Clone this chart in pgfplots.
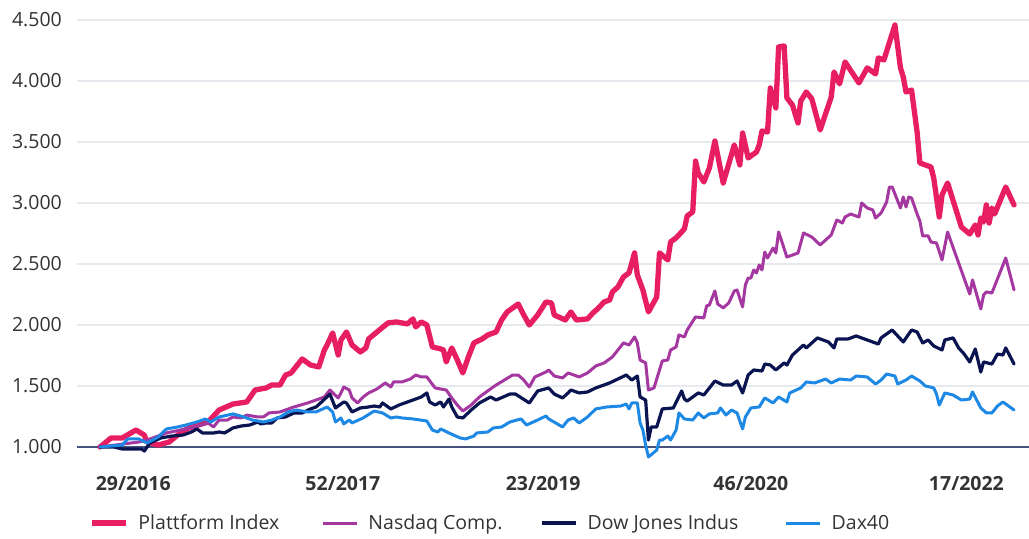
\documentclass[border=0pt]{standalone}
\usepackage{fontspec}
\setmainfont{Open Sans}
\usepackage{pgfplots}
\pgfplotsset{compat=1.18}
\definecolor{pinkc}{RGB}{232,30,99}
\definecolor{purpc}{RGB}{165,55,160}
\definecolor{navyc}{RGB}{10,20,80}
\definecolor{bluec}{RGB}{30,136,229}
\definecolor{gridc}{RGB}{230,233,237}
\definecolor{axisc}{RGB}{70,82,125}
\definecolor{textc}{RGB}{51,51,51}
\begin{document}
\begin{tikzpicture}
\begin{axis}[name=ax, scale only axis, width=952pt, height=439.2pt,
  xmin=-8.3, xmax=335.4, ymin=900, ymax=4500,
  axis line style={draw=none}, tick style={draw=none},
  ytick={1500,2000,2500,3000,3500,4000,4500},
  extra y ticks={1000},
  extra y tick style={grid style={color=axisc, line width=1.4pt}},
  ymajorgrids, grid style={color=gridc, line width=1.3pt},
  xtick={12,87.7,160,235,312.8},
  xticklabels={29/2016,52/2017,23/2019,46/2020,17/2022},
  yticklabel style={font=\fontsize{19.5}{20}\selectfont, text=textc, anchor=east, inner sep=0pt, xshift=-15pt},
  xticklabel style={font=\bfseries\fontsize{19.5}{20}\selectfont, text=textc, anchor=base, inner sep=0pt, yshift=-31pt},
  /pgf/number format/.cd, use comma, 1000 sep={.}, assume math mode=true,
  /pgfplots/.cd,
  legend columns=4,
  legend cell align=left,
  legend image code/.code={\draw[#1, line cap=butt] (0pt,0pt) -- (34pt,0pt);},
  legend style={at={(0.0126,-0.1453)}, anchor=west, draw=none, fill=none, inner sep=0pt,
    font=\fontsize{19.5}{20}\selectfont, text=textc, nodes={inner sep=0pt},
    /tikz/every odd column/.append style={column sep=10pt}},
  every axis plot/.append style={line join=round, line cap=round},
]
\addplot[pinkc, line width=5.3pt] coordinates {(0,1000)(4,1074)(8,1074)(13,1139)(16,1098)(17,1041)(21,1016)(25,1041)(29,1115)(32,1156)(39,1205)(43,1303)(48,1352)(53,1369)(56,1467)(60,1484)(62,1508)(65,1508)(67,1590)(69,1607)(73,1722)(76,1672)(79,1656)(81,1795)(82,1836)(84,1935)(86,1754)(87,1877)(89,1943)(91,1836)(94,1779)(96,1812)(97,1886)(100,1943)(104,2017)(107,2025)(111,2009)(113,2050)(114,1984)(116,2025)(118,2000)(120,1820)(123,1804)(124,1795)(125,1697)(127,1812)(129,1713)(131,1607)(133,1738)(135,1853)(138,1886)(140,1918)(143,1943)(145,2041)(147,2107)(151,2172)(153,2082)(155,2000)(158,2082)(161,2189)(163,2181)(164,2082)(168,2041)(170,2107)(172,2041)(176,2050)(178,2099)(180,2140)(182,2189)(184,2205)(185,2271)(187,2312)(189,2394)(191,2427)(193,2591)(194,2410)(196,2287)(198,2107)(201,2230)(202,2591)(205,2533)(206,2681)(208,2714)(210,2763)(211,2788)(212,2894)(214,2927)(215,3344)(216,3246)(218,3172)(220,3287)(222,3508)(225,3164)(229,3476)(231,3312)(232,3574)(234,3369)(237,3418)(238,3476)(239,3590)(241,3582)(242,3943)(244,3779)(245,4279)(247,4287)(248,3861)(250,3803)(252,3656)(253,3836)(255,3910)(257,3853)(260,3598)(264,3869)(265,4074)(267,3976)(269,4156)(274,3984)(277,4107)(280,4058)(281,4189)(283,4172)(287,4459)(289,4107)(290,4033)(291,3910)(293,3926)(295,3582)(296,3328)(300,3295)(301,3205)(303,2885)(304,3066)(306,3164)(311,2803)(314,2746)(316,2820)(317,2738)(318,2877)(319,2844)(320,2984)(321,2836)(322,2959)(323,2910)(327,3131)(330,2984)};
\addlegendentry{\makebox[183pt][l]{Plattform Index}}
\addplot[purpc, line width=3pt] coordinates {(0,1000)(14,1041)(17,1057)(24,1115)(29,1139)(34,1164)(39,1197)(41,1164)(43,1221)(46,1221)(48,1246)(51,1238)(53,1262)(57,1246)(59,1246)(61,1279)(65,1287)(70,1328)(75,1361)(78,1385)(81,1410)(83,1467)(86,1402)(87,1443)(88,1492)(90,1467)(91,1402)(93,1361)(95,1410)(97,1443)(100,1476)(103,1525)(105,1492)(106,1533)(109,1533)(112,1557)(114,1590)(116,1574)(118,1574)(121,1484)(125,1467)(127,1402)(129,1344)(131,1295)(134,1344)(137,1410)(141,1476)(143,1508)(146,1549)(149,1590)(151,1590)(153,1549)(155,1492)(157,1574)(161,1615)(162,1631)(164,1582)(167,1566)(169,1607)(173,1574)(176,1607)(179,1664)(182,1689)(185,1738)(189,1853)(191,1836)(193,1902)(194,1853)(195,1713)(197,1689)(198,1467)(200,1484)(202,1631)(203,1705)(205,1713)(206,1795)(208,1820)(209,1918)(211,1902)(212,1959)(215,2066)(218,2058)(219,2156)(220,2164)(222,2279)(223,2172)(225,2140)(227,2181)(229,2279)(230,2287)(232,2148)(233,2328)(234,2385)(235,2385)(236,2451)(237,2426)(238,2492)(239,2451)(240,2598)(241,2549)(243,2631)(244,2590)(245,2762)(248,2557)(252,2590)(254,2754)(257,2721)(260,2656)(262,2697)(264,2738)(266,2861)(268,2836)(269,2885)(271,2910)(274,2885)(275,3000)(277,2959)(279,2943)(280,2877)(282,2918)(284,3008)(285,3131)(286,3131)(289,2959)(290,3049)(291,2967)(292,3049)(293,3041)(295,2910)(296,2852)(297,2730)(299,2730)(300,2680)(302,2672)(304,2533)(306,2762)(314,2254)(315,2369)(318,2131)(319,2246)(320,2271)(322,2262)(327,2549)(330,2287)};
\addlegendentry{\makebox[172pt][l]{Nasdaq Comp.}}
\addplot[navyc, line width=3.2pt] coordinates {(0,1000)(5,1000)(8,984)(15,984)(16,967)(18,1033)(22,1074)(26,1090)(30,1098)(33,1123)(35,1148)(37,1115)(41,1115)(43,1123)(45,1115)(48,1156)(51,1172)(54,1180)(57,1205)(58,1189)(60,1197)(62,1197)(64,1238)(67,1246)(70,1279)(73,1279)(76,1312)(78,1328)(80,1369)(83,1434)(85,1320)(88,1369)(89,1361)(91,1287)(94,1320)(97,1328)(99,1336)(101,1328)(102,1361)(105,1312)(108,1344)(111,1369)(113,1385)(116,1410)(118,1443)(119,1369)(121,1344)(123,1369)(124,1328)(126,1393)(127,1328)(129,1246)(131,1238)(134,1303)(137,1361)(141,1410)(143,1385)(148,1434)(150,1434)(155,1361)(158,1459)(162,1484)(164,1434)(167,1402)(169,1443)(170,1467)(173,1443)(176,1451)(179,1484)(184,1525)(190,1590)(192,1549)(194,1582)(195,1410)(197,1385)(198,1057)(199,1164)(201,1164)(203,1312)(207,1320)(210,1459)(211,1393)(212,1377)(216,1443)(218,1426)(222,1541)(225,1508)(228,1508)(230,1541)(232,1443)(234,1590)(236,1631)(239,1623)(240,1680)(242,1672)(244,1631)(247,1689)(248,1672)(250,1754)(254,1836)(255,1812)(259,1894)(263,1861)(265,1812)(266,1885)(270,1885)(273,1910)(281,1844)(282,1894)(286,1959)(290,1861)(293,1959)(295,1943)(297,1853)(299,1877)(301,1828)(304,1795)(305,1877)(308,1894)(310,1812)(312,1762)(314,1697)(316,1803)(318,1615)(319,1697)(322,1680)(324,1762)(326,1754)(327,1812)(330,1680)};
\addlegendentry{\makebox[197pt][l]{Dow Jones Indus}}
\addplot[bluec, line width=3pt] coordinates {(0,1000)(8,1016)(10,1066)(14,1066)(17,1033)(21,1082)(24,1148)(28,1164)(31,1180)(35,1205)(38,1230)(40,1205)(43,1246)(48,1271)(52,1246)(55,1221)(59,1205)(62,1221)(65,1246)(68,1287)(71,1303)(75,1287)(78,1287)(82,1328)(84,1287)(85,1205)(87,1238)(88,1189)(90,1221)(91,1197)(95,1238)(99,1295)(102,1279)(105,1238)(107,1246)(109,1238)(113,1230)(118,1213)(120,1139)(122,1123)(123,1148)(126,1115)(130,1074)(132,1066)(135,1090)(136,1115)(140,1123)(142,1156)(145,1164)(148,1205)(152,1230)(154,1180)(158,1221)(161,1254)(162,1230)(167,1164)(169,1221)(171,1238)(173,1197)(176,1246)(179,1312)(183,1328)(188,1336)(190,1352)(191,1312)(192,1361)(194,1361)(195,1197)(196,1139)(197,1016)(198,918)(201,975)(202,1057)(203,1057)(205,1090)(206,1057)(208,1139)(209,1279)(211,1230)(214,1221)(216,1279)(218,1238)(220,1271)(223,1279)(224,1320)(226,1262)(228,1303)(230,1279)(232,1148)(233,1246)(235,1320)(238,1328)(240,1402)(243,1361)(245,1410)(248,1369)(249,1443)(253,1484)(255,1533)(258,1525)(262,1557)(264,1525)(267,1557)(271,1549)(273,1582)(277,1574)(280,1516)(282,1549)(284,1598)(287,1582)(288,1516)(291,1549)(293,1582)(296,1541)(298,1500)(301,1484)(302,1434)(303,1344)(305,1443)(308,1426)(311,1385)(314,1393)(315,1451)(318,1320)(320,1279)(322,1279)(324,1336)(326,1369)(330,1303)};
\addlegendentry{Dax40}
\end{axis}
\pgfresetboundingbox
\path ([shift={(-77pt,-79.8pt)}]ax.south west) rectangle ([shift={(0pt,20pt)}]ax.north east);
\end{tikzpicture}
\end{document}
